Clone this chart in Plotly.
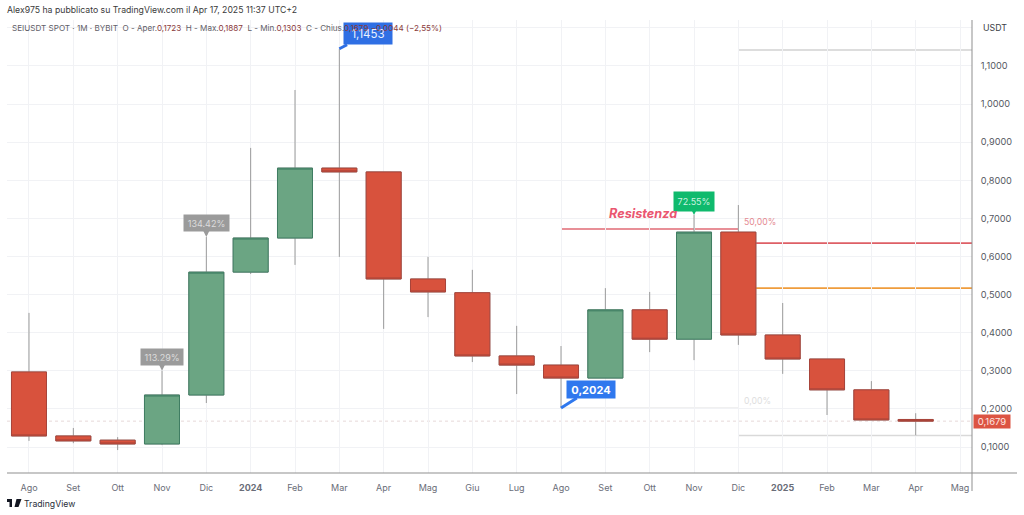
import plotly.graph_objects as go

months = ["Ago","Set","Ott","Nov","Dic","<b>2024</b>","Feb","Mar","Apr","Mag","Giu","Lug","Ago","Set","Ott","Nov","Dic","<b>2025</b>","Feb","Mar","Apr","Mag"]
opens  = [0.297,0.129,0.118,0.108,0.2365,0.559,0.6485,0.832,0.822,0.541,0.505,0.339,0.315,0.281,0.460,0.383,0.664,0.394,0.331,0.250,0.1723]
closes = [0.129,0.116,0.108,0.2365,0.559,0.6485,0.832,0.822,0.541,0.507,0.339,0.315,0.281,0.460,0.383,0.664,0.394,0.331,0.250,0.171,0.1679]
highs  = [0.452,0.150,0.126,0.300,0.651,0.885,1.037,1.1453,0.822,0.599,0.565,0.418,0.365,0.517,0.507,0.709,0.735,0.478,0.331,0.273,0.1887]
lows   = [0.116,0.110,0.092,0.105,0.2155,0.554,0.578,0.599,0.410,0.441,0.323,0.239,0.2024,0.281,0.349,0.328,0.368,0.292,0.184,0.171,0.1303]
y_ticks = [0.1,0.2,0.3,0.4,0.5,0.6,0.7,0.8,0.9,1.0,1.1,1.2]
y_labels = ["0,1000","0,2000","0,3000","0,4000","0,5000","0,6000","0,7000","0,8000","0,9000","1,0000","1,1000",""]

resist_level = 0.672
fib_top = 0.635
fib_mid = 0.517
swing_low = 0.2024
range_high = 1.142
range_low = 0.1303
last_price = 0.1679

x = list(range(len(opens)))
X_RANGE = [-0.496, 21.27]
Y_RANGE = [0.0318, 1.2207]
RED, RED_EDGE = "#d8523d", "#a8443a"
GREEN, GREEN_EDGE = "#6ba583", "#3f7d62"
WICK = "#9a9a9a"

fig = go.Figure()

shapes = []
def level(xs, v, color, width, dash="solid"):
    shapes.append(dict(type="line", xref="x", yref="y", x0=xs[0], x1=xs[1], y0=v, y1=v, layer="below",
                       line=dict(color=color, width=width, dash=dash)))

level(X_RANGE, last_price, "#e6d8d8", 1, "dot")
level([12,16], swing_low, "#e2e2e2", 1.2)
level([16,X_RANGE[1]], range_low, "#d9d9d9", 1.5)
level([16,X_RANGE[1]], range_high, "#d2d2d2", 1.5)
level([12,16], resist_level, "#e06a74", 1.6)
level([16,X_RANGE[1]], fib_top, "#de5f66", 1.6)
level([16,X_RANGE[1]], fib_mid, "#ef9c3c", 1.6)

# wicks
fig.add_trace(go.Candlestick(x=x, open=opens, high=highs, low=lows, close=closes, whiskerwidth=0,
    increasing=dict(line=dict(color=WICK,width=1), fillcolor="rgba(0,0,0,0)"),
    decreasing=dict(line=dict(color=WICK,width=1), fillcolor="rgba(0,0,0,0)"),
    hoverinfo="skip", showlegend=False))
# bodies
fig.add_trace(go.Candlestick(x=x, open=opens, close=closes,
    high=[max(a,b) for a,b in zip(opens,closes)], low=[min(a,b) for a,b in zip(opens,closes)],
    whiskerwidth=0,
    increasing=dict(line=dict(color=GREEN_EDGE,width=1), fillcolor=GREEN),
    decreasing=dict(line=dict(color=RED_EDGE,width=1), fillcolor=RED),
    hoverinfo="skip", showlegend=False))

FONT = "Inter, 'Open Sans', sans-serif"
ann = []
def callout(xv, yv, text, bg, ax, ay, w, h, size=11, head=0, awidth=3, bold=False, color="white"):
    ann.append(dict(x=xv, y=yv, xref="x", yref="y", text=("<b>%s</b>"%text if bold else text), showarrow=True,
        ax=ax, ay=ay, axref="pixel", ayref="pixel", arrowcolor=bg, arrowwidth=awidth, arrowhead=head, arrowsize=1,
        standoff=0, startstandoff=0, bgcolor=bg, width=w, height=h, borderpad=0,
        font=dict(family=FONT, size=size, color=color), align="center", valign="middle"))

callout(7, highs[7], "1,1453", "#2f6fe4", 29, -15, 48, 21, 11.5, bold=False, color="#e8f0ff")
callout(12, swing_low, "0,2024", "#2f78ee", 30, -19, 48, 17, 11, bold=True)
callout(3, highs[3], "113.29%", "#9b9b9b", 0, -14, 42, 16, 9, head=2, awidth=2, color="#dddddd")
callout(4, highs[4], "134.42%", "#9b9b9b", 0, -14, 45, 16, 9, head=2, awidth=2, color="#dddddd")
callout(15, highs[15], "72.55%", "#0fba6d", 0, -13, 40, 19, 9, head=2, awidth=2, color="#cdf3e0")

def text(xv, yv, t, color, size, xref="paper", yref="paper", anchor="left", **kw):
    ann.append(dict(x=xv, y=yv, xref=xref, yref=yref, text=t, showarrow=False, xanchor=anchor, yanchor="middle",
                    font=dict(family=FONT, size=size, color=color), **kw))

dr = "#8a3a3a"
legend = ("SEIUSDT SPOT · 1M · BYBIT&nbsp;&nbsp;O - Aper.<span style='color:%s'>0,1723</span>&nbsp;&nbsp;"
          "H - Max.<span style='color:%s'>0,1887</span>&nbsp;&nbsp;L - Min.<span style='color:%s'>0,1303</span>&nbsp;&nbsp;"
          "C - Chius.<span style='color:%s'>0,1679 −0,0044 (−2,55%%)</span>") % (dr,dr,dr,dr)
# plot area is x 7..972, y 20..473
def xp(v): return (v-7)/965
def yp(v): return (473-v)/453

text(xp(5), yp(10), "Alex975 ha pubblicato su TradingView.com il Apr 17, 2025 11:37 UTC+2", "#3a3a3a", 8.7)
text(xp(10), yp(28), legend, "#5f6068", 8.1)
text(xp(981), yp(28), "USDT", "#3d3f46", 8.8)
text(13.03, resist_level+0.04, "<b><i>Resistenza</i></b>", "#ea5670", 12.7, "x", "y")
text(16.08, 0.69, "50,00%", "#e58a92", 8.7, "x", "y")
text(16.08, 0.2205, "0,00%", "#dedede", 8.7, "x", "y")
ann.append(dict(x=1, y=last_price, xref="paper", yref="y", text="0,1679", xanchor="left", yanchor="middle", showarrow=False, xshift=1,
                bgcolor="#dc5443", width=36, height=13, borderpad=0, font=dict(family=FONT,size=9.5,color="#ffe6e2")))
text(xp(22), yp(504), "TradingView", "#2a2e39", 8.7)

shapes += [
    dict(type="line", xref="paper", yref="paper", x0=0, x1=xp(1017), y0=0, y1=0, line=dict(color="#8f8f8f", width=1)),
    dict(type="line", xref="paper", yref="paper", x0=1, x1=1, y0=yp(491), y1=1, line=dict(color="#8f8f8f", width=1)),
    dict(type="path", xref="paper", yref="paper", xsizemode="pixel", ysizemode="pixel", xanchor=xp(7), yanchor=yp(499),
         path="M0,0 L5,0 L5,-8 L2.5,-8 L2.5,-3 L0,-3 Z M6.8,0 a1.3,1.3 0 1 0 0.01,0 Z M9.5,0 L14.5,0 L11.5,-8 L7.5,-8 Z",
         fillcolor="#131722", line=dict(width=0)),
]

fig.update_layout(
    width=1024, height=515, margin=dict(l=7, r=52, t=20, b=42), paper_bgcolor="white", plot_bgcolor="white",
    showlegend=False, boxgap=0.21, boxgroupgap=0, annotations=ann, shapes=shapes, font=dict(family=FONT),
    xaxis=dict(range=X_RANGE, rangeslider=dict(visible=False), tickmode="array", tickvals=list(range(len(months))),
               ticktext=months, showgrid=True, gridcolor="#f1f2f5", gridwidth=1, zeroline=False, showline=False,
               ticks="outside", ticklen=6, tickcolor="rgba(0,0,0,0)", tickfont=dict(size=9, color="#6a6d78", family=FONT)),
    yaxis=dict(range=Y_RANGE, side="right", tickmode="array", tickvals=y_ticks, ticktext=y_labels,
               showgrid=True, gridcolor="#f1f2f5", gridwidth=1, zeroline=False, showline=False,
               ticks="outside", ticklen=6, tickcolor="rgba(0,0,0,0)", tickfont=dict(size=9.2, color="#555862", family=FONT)),
)
fig.write_html("out.html", config=dict(displayModeBar=False), post_script="document.body.style.margin='0';")
